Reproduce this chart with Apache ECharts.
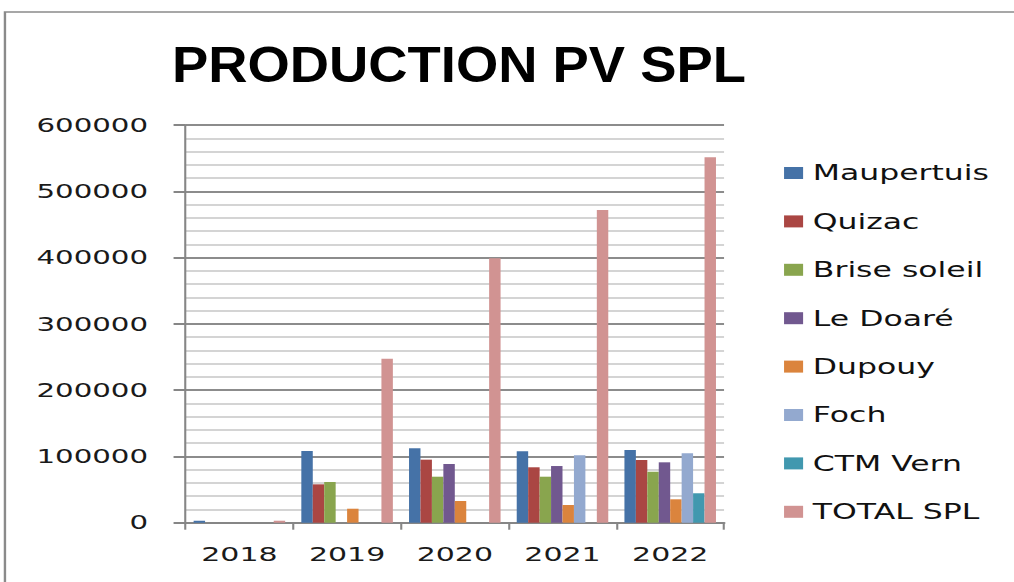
<!DOCTYPE html>
<html><head><meta charset="utf-8">
<script src="https://cdn.jsdelivr.net/npm/echarts@6.0.0/dist/echarts.min.js"></script>
<style>
html,body{margin:0;padding:0;background:#fff;overflow:hidden;width:1014px;height:582px;}
#chart{width:676px;height:582px;transform:scaleX(1.5);transform-origin:0 0;}
</style></head><body><div id="chart"></div>
<script>
// ---- data ----
const years = ['2018', '2019', '2020', '2021', '2022'];
const seriesNames = ['Maupertuis', 'Quizac', 'Brise soleil', 'Le Doaré', 'Dupouy', 'Foch', 'CTM Vern', 'TOTAL SPL'];
const maupertuis  = [3000, 108200, 112300, 107700, 109700];
const quizac      = [null, 57900, 95100, 83600, 94600];
const briseSoleil = [null, 61400, 69400, 69400, 76900];
const leDoare     = [null, null, 88600, 85500, 91100];
const dupouy      = [null, 21100, 32700, 26700, 35300];
const foch        = [null, null, null, 101700, 104700];
const ctmVern     = [null, null, null, null, 44400];
const totalSpl    = [3000, 247400, 398900, 471800, 551300];
const yTicks = { min: 0, max: 600000, interval: 100000 };
const titleText = 'PRODUCTION PV SPL';

// ---- style ----
const colors = ['#4572A7', '#AA4643', '#89A54E', '#71588F', '#DB843D', '#93A9CF', '#4198AF', '#D19392'];
const allValues = [maupertuis, quizac, briseSoleil, leDoare, dupouy, foch, ctmVern, totalSpl];
const font = 'DejaVu Sans';

const chart = echarts.init(document.getElementById('chart'), null, { renderer: 'svg', width: 676, height: 582 });
chart.setOption({
  animation: false,
  backgroundColor: '#ffffff',
  color: colors,
  graphic: [
    { type: 'rect', shape: { x: 3.3, y: 12, width: 800, height: 700 }, style: { fill: 'none', stroke: '#8a8a8a', lineWidth: 1.6 }, silent: true },
    { type: 'text', x: 114.7, y: 40, scaleX: 0.725, style: { text: titleText, font: 'bold 50px "Liberation Sans", Arial, sans-serif', fill: '#000', textVerticalAlign: 'top' } }
  ],
  grid: { left: 123.7, top: 125, width: 359, height: 397.7 },
  legend: {
    orient: 'vertical', left: 522.7, top: 162, padding: 0,
    itemWidth: 12.7, itemHeight: 12, itemGap: 26.4,
    icon: 'rect',
    textStyle: { fontFamily: font, fontSize: 21, lineHeight: 22, color: '#111', padding: [0, 0, 0, 1.5] },
    data: seriesNames
  },
  xAxis: {
    type: 'category', data: years,
    axisLine: { lineStyle: { color: '#868686', width: 2 } },
    axisTick: { show: true, length: 7, lineStyle: { color: '#868686', width: 1.4 } },
    axisLabel: { fontFamily: font, fontSize: 20, color: '#1a1a1a', margin: 21 },
    splitLine: { show: false }
  },
  yAxis: {
    type: 'value', min: yTicks.min, max: yTicks.max, interval: yTicks.interval,
    axisLine: { show: true, lineStyle: { color: '#868686', width: 1.4 } },
    axisTick: { show: true, length: 8, lineStyle: { color: '#868686', width: 2 } },
    axisLabel: { fontFamily: font, fontSize: 19.5, color: '#1a1a1a', margin: 25, formatter: v => String(v) },
    splitLine: { show: true, lineStyle: { color: '#8c8c8c', width: 2 } },
    minorTick: { show: false, splitNumber: 5 },
    minorSplitLine: { show: true, lineStyle: { color: '#c6c6c6', width: 1.6 } }
  },
  series: seriesNames.map((name, i) => ({
    name, type: 'bar', data: allValues[i],
    barGap: '0%', barCategoryGap: '15%',
    itemStyle: { color: colors[i] }
  }))
});
</script></body></html>
